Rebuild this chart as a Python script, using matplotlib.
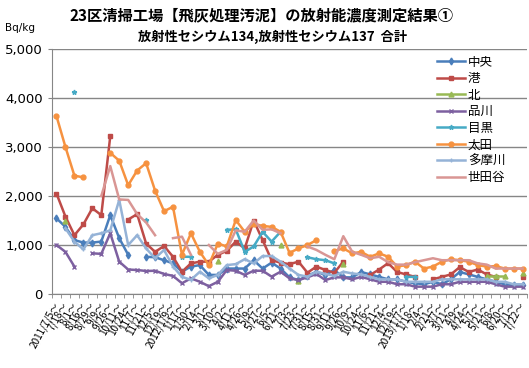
import matplotlib
matplotlib.use("Agg")
import matplotlib.pyplot as plt
import numpy as np

N = None
dates = ["2011/7/5", "7/18", "8/1", "8/16", "8/29", "9/9", "9/26", "10/11", "10/24", "11/7",
         "11/21", "12/5", "12/19", "2012/1/9", "1/17", "1/30", "2/14", "3/1", "3/10", "4/2",
         "4/11", "4/26", "5/9", "5/27", "6/5", "6/21", "7/3", "7/23", "7/31", "8/15",
         "8/31", "9/11", "9/26", "10/9", "10/24", "11/6", "11/21", "12/4", "12/19", "2013/1/7",
         "1/18", "2/4", "2/21", "3/7", "3/21", "4/9", "4/24", "5/7", "5/21", "6/8",
         "6/20", "7/1", "7/22"]
labels = [d + "～" for d in dates]

chuo = [1545, 1370, 1100, 1050, 1050, 1070, 1610, 1140, 800, N,
        760, 750, 690, 625, 455, 560, 590, 390, 390, 520,
        520, 520, 690, 520, 640, 520, 340, 285, 370, 455,
        390, 490, 340, 340, 450, 400, 350, 300, 300, 250,
        220, 200, 250, 200, 300, 450, 400, 350, 300, 250,
        200, 180, 180]
minato = [2050, 1580, 1200, 1420, 1750, 1610, 3220, N, 1520, 1630,
          1030, 860, 980, 760, 455, 625, 660, 660, 800, 880,
          1070, 930, 1500, 1100, 690, 640, 610, 660, 435, 560,
          490, 435, 660, N, N, 390, 500, 630, 450, 400,
          350, N, 300, 350, 400, 550, 450, 500, 400, 350,
          N, N, 350]
kita = [N, 1500, N, N, N, N, N, N, N, N,
        N, N, N, N, N, N, N, N, 680, N,
        N, N, N, N, N, 1010, N, 270, N, N,
        N, N, 610, N, N, N, N, N, N, N,
        N, N, N, N, N, N, N, N, 370, 370,
        370, N, 430]
shinagawa = [1000, 860, 560, N, 830, 820, 1240, 660, 500, 490,
             470, 475, 410, 370, 220, 320, 250, 160, 250, 490,
             475, 390, 475, 475, 355, 455, 320, 285, 340, 410,
             285, 340, 340, 300, 350, 300, 250, 250, 200, 200,
             150, 150, 150, 200, 200, 250, 250, 250, 250, 200,
             150, 150, 150]
meguro = [N, N, 4130, N, N, N, N, N, N, N,
          1510, N, N, N, 760, 760, N, N, N, 1310,
          1320, 860, 970, 1270, 1070, 1270, N, N, 750, 710,
          690, 625, N, N, N, N, N, N, N, 350,
          350, N, N, N, N, N, N, N, N, N,
          N, N, N]
ota = [3630, 3000, 2415, 2380, N, N, 2880, 2720, 2220, 2520,
       2670, 2110, 1690, 1780, 800, 1240, 860, 590, 1030, 970,
       1510, 1270, 1430, 1390, 1370, 1270, 840, 930, 1000, 1100,
       N, 880, 930, 830, 860, 760, 830, 760, 560, 590,
       660, 520, 560, 660, 710, 690, 660, 590, 560, 570,
       520, 520, 520]
tama = [N, 1340, 1070, 910, 1200, 1240, 1300, 1920, 1000, 1200,
        930, 730, 900, 560, 350, 290, 455, 320, 390, 590,
        610, 710, 625, 775, 775, 660, 520, 390, 355, 455,
        410, 370, 455, 420, 400, 350, 300, 300, 300, 250,
        250, 250, 250, 300, 300, 300, 300, 300, 300, 250,
        250, 200, 200]
setagaya = [N, N, N, N, N, 2000, 2610, 1930, 1920, 1630,
            1460, 1200, N, 1140, 1170, 800, N, 1000, 820, 900,
            1300, 1270, 1500, 1310, 1320, 1240, N, N, 970, 900,
            800, 710, 1180, 860, 800, 730, 760, 650, 600, 600,
            650, 690, 730, 690, 690, 690, 690, 625, 600, 520,
            520, 520, 520]

series = [
    ("中央", chuo, "#4A7EBB", "d"),
    ("港", minato, "#BE4B48", "s"),
    ("北", kita, "#98B954", "^"),
    ("品川", shinagawa, "#7D60A0", "x"),
    ("目黒", meguro, "#46AAC5", "*"),
    ("太田", ota, "#F69240", "o"),
    ("多摩川", tama, "#95B3D7", "+"),
    ("世田谷", setagaya, "#D99694", ""),
]

plt.rcParams['font.family'] = ['Noto Sans CJK JP', 'DejaVu Sans']
fig = plt.figure(figsize=(5.29, 3.68), dpi=100)
ax = fig.add_axes([0.0983, 0.201, 0.898, 0.666])

x = np.arange(len(dates))
for name, vals, col, mk in series:
    y = np.array([np.nan if v is None else v for v in vals], dtype=float)
    ax.plot(x, y, color=col, lw=1.8, marker=mk if mk else None, ms=3.5,
            mew=1.0, label=name, solid_joinstyle='round')

ax.set_xlim(-0.5, len(dates) - 0.5)
ax.set_ylim(0, 5000)
ax.set_yticks([0, 1000, 2000, 3000, 4000, 5000])
ax.set_yticklabels(["0", "1,000", "2,000", "3,000", "4,000", "5,000"], fontsize=9.5,
                   family=['DejaVu Sans'])
ax.set_xticks(x)
ax.set_xticklabels(labels, rotation=62, ha='right', va='center', rotation_mode='anchor',
                   fontsize=7.2)
ax.set_xticks(np.arange(-0.5, len(dates)), minor=True)
ax.tick_params(axis='x', which='major', length=0, pad=6)
ax.tick_params(axis='x', which='minor', length=3, color='#868686')
ax.tick_params(axis='y', length=3, color='#868686')
ax.grid(axis='y', color='#868686', lw=1.0)
ax.set_axisbelow(True)
for s in ['top', 'right']:
    ax.spines[s].set_visible(False)
for s in ['left', 'bottom']:
    ax.spines[s].set_color('#868686')

leg = ax.legend(loc='upper left', bbox_to_anchor=(0.795, 1.0), frameon=False,
                fontsize=9, handlelength=2.3, handletextpad=0.2, labelspacing=0.28,
                borderaxespad=0.15)

fig.text(0.494, 0.959, "23区清掃工場【飛灰処理汚泥】の放射能濃度測定結果①", ha='center', va='center',
         fontsize=11, fontweight='bold')
fig.text(0.515, 0.899, "放射性セシウム134,放射性セシウム137  合計", ha='center', va='center',
         fontsize=9.5, fontweight='bold')
fig.text(0.01, 0.924, "Bq/kg", ha='left', va='center', fontsize=7.5, family=['DejaVu Sans'])

fig.savefig("out.png", dpi=100)
